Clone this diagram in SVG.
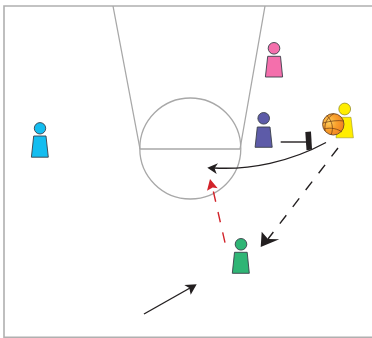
<svg xmlns="http://www.w3.org/2000/svg" width="372" height="338" viewBox="0 0 372 338">
<style>
.court{fill:none;stroke:#a8a8a8;stroke-width:1.3}
.frame{fill:none;stroke:#b0b0b0;stroke-width:1.6}
.pl{stroke:#3a3f4a;stroke-width:.9}
.k{fill:none;stroke:#231f20;stroke-width:1.4}
.h{fill:#231f20}
.r{fill:none;stroke:#d2232a;stroke-width:1.4;stroke-dasharray:10.5 10.5}
.seam{fill:none;stroke:#6b3a12;stroke-width:.7}
</style>
<defs>
<radialGradient id="ball" cx=".3" cy=".4" r=".8">
<stop offset="0" stop-color="#fdd060"/>
<stop offset=".45" stop-color="#f9a02c"/>
<stop offset="1" stop-color="#ee7a1e"/>
</radialGradient>
</defs>
<rect width="372" height="338" fill="#fff"/>
<g id="court">
<path class="frame" d="M372,6H4V337.3H372"/>
<path class="court" d="M113,6L140,149M265,6L240,149M140,149H240"/>
<circle class="court" cx="190.3" cy="148.5" r="50.5"/>
</g>
<g id="connectors">
<path class="k" d="M326,142.5C290,162 250,170 214,168"/>
<path class="h" d="M207.3,167.7L218,163.3L214.5,168.3L216.7,174Z"/>
<path class="k" stroke-dasharray="10.6 10.6" d="M338,148L268,239"/>
<path class="h" d="M260.7,247L261.7,231.7L268,239L279.3,239.3Z"/>
<path class="r" d="M225,242.7L212.8,189"/>
<path fill="#d2232a" d="M210,179L217.7,188.3L212.7,187.5L207,190.7Z"/>
<path class="k" d="M144,314L190,288"/>
<path class="h" d="M196.7,284.3L184.3,285L189.3,288L190.7,294.7Z"/>
<path class="k" d="M280.7,142H306"/>
<path class="h" d="M305.3,132L311,131.6L312,149.6L306.5,150.2Z"/>
</g>
<g id="player-blue">
<circle class="pl" cx="40" cy="128.3" r="5.7" fill="#13bdf0"/>
<path class="pl" d="M33.7,136H46L48.3,157.2H31.4Z" fill="#13bdf0"/>
</g>
<g id="player-pink">
<circle class="pl" cx="274" cy="48.3" r="5.8" fill="#f46fac"/>
<path class="pl" d="M267.7,56.3H280.5L282.6,77H265.4Z" fill="#f46fac"/>
</g>
<g id="player-purple">
<circle class="pl" cx="263.7" cy="118.3" r="5.8" fill="#5d5ba8"/>
<path class="pl" d="M257.3,127H270L272.2,147.3H255.1Z" fill="#5d5ba8"/>
</g>
<g id="player-green">
<circle class="pl" cx="241" cy="244.3" r="5.8" fill="#2fb575"/>
<path class="pl" d="M234.5,252.3H247.2L249.3,273.3H232.3Z" fill="#2fb575"/>
</g>
<g id="player-yellow">
<circle cx="344.7" cy="109" r="5.9" fill="#ffed00" stroke="#8a8220" stroke-width=".7"/>
<path d="M338,117.3H351L353.4,137.8H336Z" fill="#ffed00" stroke="#8a8220" stroke-width=".5"/>
<g id="basketball">
<circle cx="333.3" cy="124.3" r="10.7" fill="url(#ball)" stroke="#6b4a2a" stroke-width=".9"/>
<path class="seam" d="M323,123C330,121 338,120 344,121M324,129C331,127 338,129 342,132M327,115.5C332,121 334,128 331,135M334,113.7C328,117 324,122 325,131"/>
</g>
</g>
</svg>
